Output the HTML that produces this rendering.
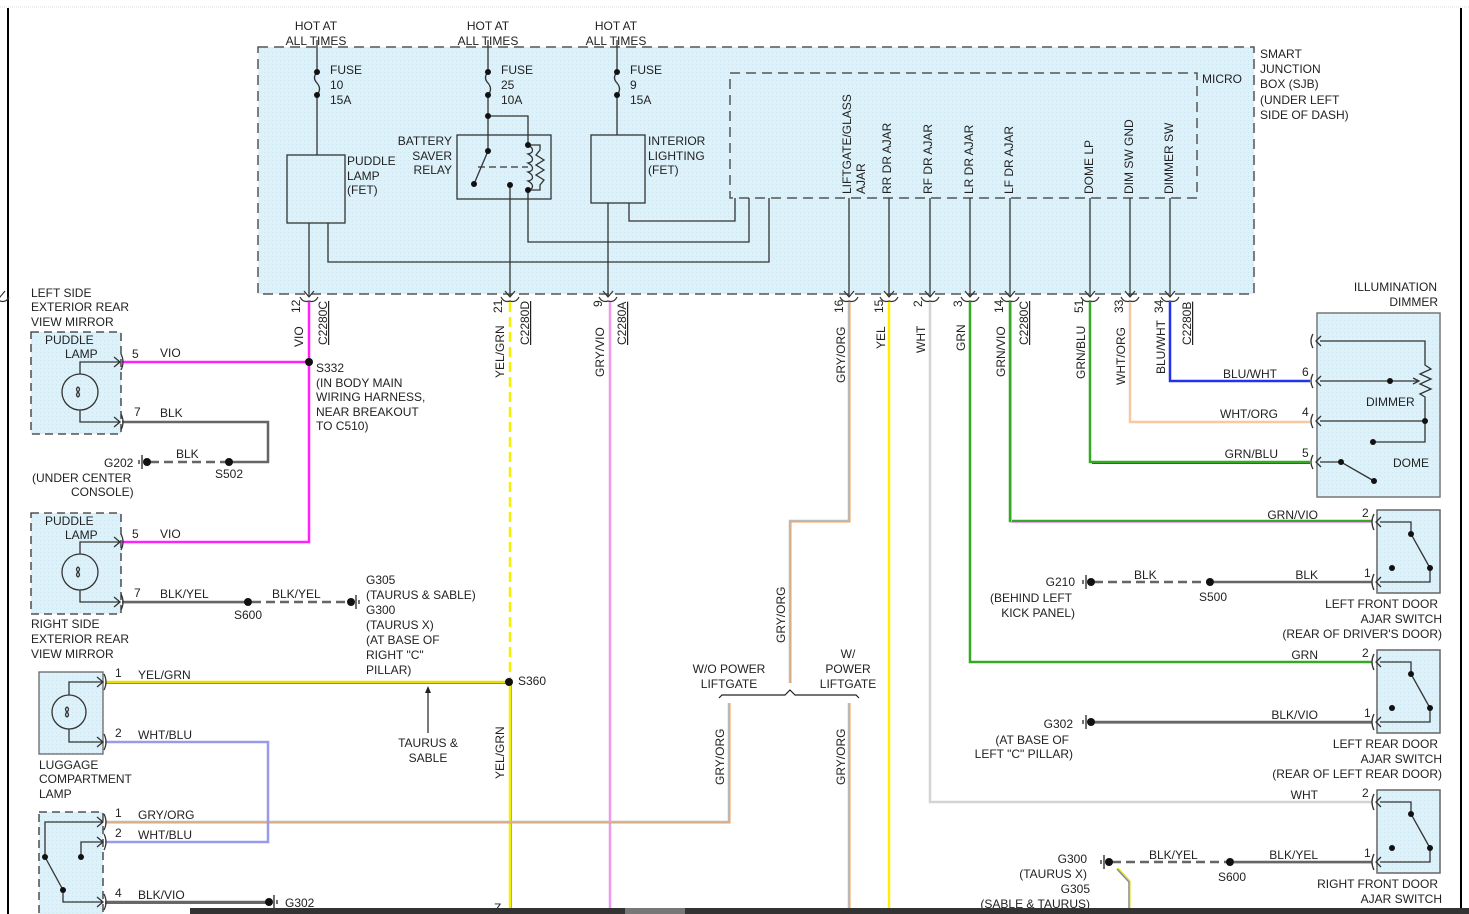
<!DOCTYPE html>
<html><head><meta charset="utf-8"><style>
html,body{margin:0;padding:0;background:#fff;}
svg{display:block;font-family:"Liberation Sans",sans-serif;font-size:12px;fill:#222;}
text{fill:#222;stroke:none;}
</style></head><body>
<svg width="1469" height="914" viewBox="0 0 1469 914" xmlns="http://www.w3.org/2000/svg">
<defs>
<pattern id="dots" width="4" height="4" patternUnits="userSpaceOnUse"><rect width="4" height="4" fill="#dff1f8"/><rect width="1" height="1" fill="#c9e6f2"/></pattern>
</defs>
<line x1="0" y1="7" x2="1469" y2="7" stroke="#ddd" stroke-width="1" stroke-dasharray="1,1"/>
<line x1="8" y1="8" x2="8" y2="914" stroke="#000" stroke-width="2"/>
<line x1="1461" y1="8" x2="1461" y2="914" stroke="#000" stroke-width="2"/>

<!-- SJB box -->
<rect x="258" y="47" width="996" height="247" fill="url(#dots)" stroke="#555" stroke-width="1.5" stroke-dasharray="10,6"/>
<rect x="730" y="73" width="467" height="125" fill="none" stroke="#555" stroke-width="1.5" stroke-dasharray="10,6"/>
<text x="1202" y="83">MICRO</text>
<g><text x="1260" y="58">SMART</text><text x="1260" y="73">JUNCTION</text><text x="1260" y="88">BOX (SJB)</text><text x="1260" y="104">(UNDER LEFT</text><text x="1260" y="119">SIDE OF DASH)</text></g>

<g text-anchor="middle"><text x="316" y="30">HOT AT</text><text x="316" y="45">ALL TIMES</text>
<text x="488" y="30">HOT AT</text><text x="488" y="45">ALL TIMES</text>
<text x="616" y="30">HOT AT</text><text x="616" y="45">ALL TIMES</text></g>

<g stroke="#333" stroke-width="1.3" fill="none">
<!-- fuse 10 -->
<line x1="317" y1="40" x2="317" y2="72"/><path d="M317 72 q-5 6 0 11 q5 6 0 12"/><line x1="317" y1="95" x2="317" y2="155"/>
<rect x="287" y="155" width="58" height="68"/>
<line x1="309" y1="223" x2="309" y2="297"/>
<polyline points="328,223 328,262 769,262 769,198"/>
<!-- fuse 25 -->
<line x1="488" y1="40" x2="488" y2="72"/><path d="M488 72 q-5 6 0 11 q5 6 0 12"/><line x1="488" y1="95" x2="488" y2="151"/>
<polyline points="488,116 528,116 528,145"/>
<rect x="457" y="135" width="94" height="64"/>
<line x1="488" y1="151" x2="474" y2="184"/>
<line x1="478" y1="167" x2="528" y2="167" stroke-dasharray="7,4"/>
<path d="M528 145 c6 3 6 8 0 9 c6 3 6 8 0 9 c6 3 6 8 0 9 c6 3 6 8 0 9 c6 3 6 8 0 9"/>
<polyline points="528,145 540,145 540,150 536,155 544,160 536,165 544,170 536,175 544,180 540,185 540,190 528,190"/>
<line x1="510" y1="185" x2="510" y2="297"/>
<polyline points="528,190 528,242 749,242 749,198"/>
<!-- fuse 9 -->
<line x1="617" y1="40" x2="617" y2="72"/><path d="M617 72 q-5 6 0 11 q5 6 0 12"/><line x1="617" y1="95" x2="617" y2="135"/>
<rect x="591" y="135" width="54" height="68"/>
<line x1="608" y1="203" x2="608" y2="297"/>
<polyline points="629,203 629,221 735,221 735,198"/>
<!-- micro pins -->
<line x1="849" y1="198" x2="849" y2="297"/><line x1="889" y1="198" x2="889" y2="297"/><line x1="930" y1="198" x2="930" y2="297"/><line x1="970" y1="198" x2="970" y2="297"/><line x1="1010" y1="198" x2="1010" y2="297"/><line x1="1090" y1="198" x2="1090" y2="297"/><line x1="1130" y1="198" x2="1130" y2="297"/><line x1="1170" y1="198" x2="1170" y2="297"/>
</g>
<g fill="#111">
<circle cx="317" cy="72" r="3"/><circle cx="317" cy="95" r="3"/>
<circle cx="488" cy="72" r="3"/><circle cx="488" cy="95" r="3"/><circle cx="488" cy="116" r="3"/><circle cx="488" cy="151" r="3"/><circle cx="474" cy="184" r="3"/><circle cx="510" cy="185" r="3"/><circle cx="528" cy="145" r="3"/><circle cx="528" cy="190" r="3"/>
<circle cx="617" cy="72" r="3"/><circle cx="617" cy="95" r="3"/>
</g>
<text x="330" y="74">FUSE</text><text x="330" y="89">10</text><text x="330" y="104">15A</text>
<text x="501" y="74">FUSE</text><text x="501" y="89">25</text><text x="501" y="104">10A</text>
<text x="630" y="74">FUSE</text><text x="630" y="89">9</text><text x="630" y="104">15A</text>
<text x="347" y="165">PUDDLE</text><text x="347" y="180">LAMP</text><text x="347" y="194">(FET)</text>
<g text-anchor="end"><text x="452" y="145">BATTERY</text><text x="452" y="160">SAVER</text><text x="452" y="174">RELAY</text></g>
<text x="648" y="145">INTERIOR</text><text x="648" y="160">LIGHTING</text><text x="648" y="174">(FET)</text>

<!-- micro labels -->
<g>
<text transform="translate(851,194) rotate(-90)">LIFTGATE/GLASS</text>
<text transform="translate(865,194) rotate(-90)">AJAR</text>
<text transform="translate(891,194) rotate(-90)">RR DR AJAR</text>
<text transform="translate(932,194) rotate(-90)">RF DR AJAR</text>
<text transform="translate(973,194) rotate(-90)">LR DR AJAR</text>
<text transform="translate(1013,194) rotate(-90)">LF DR AJAR</text>
<text transform="translate(1093,194) rotate(-90)">DOME LP</text>
<text transform="translate(1133,194) rotate(-90)">DIM  SW GND</text>
<text transform="translate(1173,194) rotate(-90)">DIMMER SW</text>
</g>

<!-- pin arrows & connectors -->
<g stroke="#333" stroke-width="1.2" fill="none">
<path id="pa" d="M-5 291 L0 297 L5 291 M-9 297 q3 6 9 4 q6 2 9 -4"/>
</g>
<g stroke="#333" stroke-width="1.2" fill="none">
<path d="M304 291 L309 297 L314 291 M300 297 q3 6 9 4 q6 2 9 -4"/>
<path d="M505 291 L510 297 L515 291 M501 297 q3 6 9 4 q6 2 9 -4"/>
<path d="M603 291 L608 297 L613 291 M599 297 q3 6 9 4 q6 2 9 -4"/>
<path d="M844 291 L849 297 L854 291 M840 297 q3 6 9 4 q6 2 9 -4"/>
<path d="M884 291 L889 297 L894 291 M880 297 q3 6 9 4 q6 2 9 -4"/>
<path d="M925 291 L930 297 L935 291 M921 297 q3 6 9 4 q6 2 9 -4"/>
<path d="M965 291 L970 297 L975 291 M961 297 q3 6 9 4 q6 2 9 -4"/>
<path d="M1005 291 L1010 297 L1015 291 M1001 297 q3 6 9 4 q6 2 9 -4"/>
<path d="M1085 291 L1090 297 L1095 291 M1081 297 q3 6 9 4 q6 2 9 -4"/>
<path d="M1125 291 L1130 297 L1135 291 M1121 297 q3 6 9 4 q6 2 9 -4"/>
<path d="M1165 291 L1170 297 L1175 291 M1161 297 q3 6 9 4 q6 2 9 -4"/>
</g>
<g>
<text transform="translate(300,313) rotate(-90)">12</text>
<text transform="translate(502,313) rotate(-90)">21</text>
<text transform="translate(602,307) rotate(-90)">9</text>
<text transform="translate(843,313) rotate(-90)">16</text>
<text transform="translate(883,313) rotate(-90)">15</text>
<text transform="translate(922,307) rotate(-90)">2</text>
<text transform="translate(962,307) rotate(-90)">3</text>
<text transform="translate(1003,313) rotate(-90)">14</text>
<text transform="translate(1083,313) rotate(-90)">51</text>
<text transform="translate(1123,313) rotate(-90)">33</text>
<text transform="translate(1163,313) rotate(-90)">34</text>
<text transform="translate(327,345) rotate(-90)" text-decoration="underline">C2280C</text>
<text transform="translate(529,345) rotate(-90)" text-decoration="underline">C2280D</text>
<text transform="translate(626,345) rotate(-90)" text-decoration="underline">C2280A</text>
<text transform="translate(1028,345) rotate(-90)" text-decoration="underline">C2280C</text>
<text transform="translate(1191,345) rotate(-90)" text-decoration="underline">C2280B</text>
<text transform="translate(303,347) rotate(-90)">VIO</text>
<text transform="translate(504,378) rotate(-90)">YEL/GRN</text>
<text transform="translate(604,377) rotate(-90)">GRY/VIO</text>
<text transform="translate(845,383) rotate(-90)">GRY/ORG</text>
<text transform="translate(885,349) rotate(-90)">YEL</text>
<text transform="translate(925,353) rotate(-90)">WHT</text>
<text transform="translate(965,351) rotate(-90)">GRN</text>
<text transform="translate(1005,377) rotate(-90)">GRN/VIO</text>
<text transform="translate(1085,379) rotate(-90)">GRN/BLU</text>
<text transform="translate(1125,385) rotate(-90)">WHT/ORG</text>
<text transform="translate(1165,374) rotate(-90)">BLU/WHT</text>
</g>

<!-- wires -->
<g fill="none" stroke-width="2.5">
<polyline points="309,302 309,542 122,542" stroke="#ff22ff"/>
<line x1="122" y1="362" x2="309" y2="362" stroke="#ff22ff"/>
<line x1="510" y1="302" x2="510" y2="682" stroke="#f2f200" stroke-dasharray="10,5"/>
<line x1="510" y1="682" x2="510" y2="914" stroke="#f2f200"/>
<line x1="511.5" y1="682" x2="511.5" y2="914" stroke="#8c4" stroke-width="1"/>
<line x1="105" y1="682" x2="509" y2="682" stroke="#e8e000"/>
<line x1="105" y1="683.5" x2="509" y2="683.5" stroke="#6a4" stroke-width="1"/>
<line x1="610" y1="302" x2="610" y2="914" stroke="#ee99ee"/>
<polyline points="849,302 849,521 790,521 790,683" stroke="#bbb"/>
<polyline points="850,302 850,522 791,522 791,683" stroke="#f5a050" stroke-width="1"/>
<polyline points="729,703 729,822 105,822" stroke="#bbb"/>
<polyline points="730,703 730,823 105,823" stroke="#f5a050" stroke-width="1"/>
<line x1="849" y1="703" x2="849" y2="914" stroke="#bbb"/>
<line x1="850" y1="703" x2="850" y2="914" stroke="#f5a050" stroke-width="1"/>
<line x1="889" y1="302" x2="889" y2="914" stroke="#ffee00"/>
<polyline points="930,302 930,802 1372,802" stroke="#d4d4d4"/>
<polyline points="970,302 970,662 1372,662" stroke="#33aa22"/>
<polyline points="1010,302 1010,521 1372,521" stroke="#33aa22"/>
<polyline points="1011.5,302 1011.5,522.5 1372,522.5" stroke="#e8a0e8" stroke-width="1"/>
<polyline points="1090,302 1090,462 1310,462" stroke="#33aa22"/>
<line x1="1092" y1="463.5" x2="1310" y2="463.5" stroke="#3344ee" stroke-width="1"/>
<polyline points="1130,302 1130,422 1310,422" stroke="#f8c8a0"/>
<polyline points="1170,302 1170,381 1310,381" stroke="#2233ee"/>
<!-- grounds -->
<polyline points="122,422 268,422 268,462 232,462" stroke="#666"/>
<line x1="150" y1="462" x2="228" y2="462" stroke="#666" stroke-dasharray="9,5"/>
<line x1="122" y1="602" x2="246" y2="602" stroke="#666"/>
<line x1="122" y1="603.5" x2="246" y2="603.5" stroke="#dd0" stroke-width="1"/>
<line x1="252" y1="602" x2="347" y2="602" stroke="#666" stroke-dasharray="9,5"/>
<polyline points="105,742 268,742 268,842 105,842" stroke="#9999ee"/>
<line x1="105" y1="902" x2="266" y2="902" stroke="#666"/>
<line x1="105" y1="903.5" x2="266" y2="903.5" stroke="#f0f" stroke-width="1"/>
<line x1="1094" y1="582" x2="1207" y2="582" stroke="#666" stroke-dasharray="9,5"/>
<line x1="1214" y1="582" x2="1372" y2="582" stroke="#666"/>
<line x1="1094" y1="722" x2="1372" y2="722" stroke="#666"/>
<line x1="1094" y1="723.5" x2="1372" y2="723.5" stroke="#e6e" stroke-width="1"/>
<line x1="1112" y1="862" x2="1227" y2="862" stroke="#666" stroke-dasharray="9,5"/>
<line x1="1234" y1="862" x2="1372" y2="862" stroke="#666"/>
<line x1="1234" y1="863.5" x2="1372" y2="863.5" stroke="#dd0" stroke-width="1"/>
<polyline points="1117,869 1129,882 1129,914" stroke="#888" stroke-width="1.5"/>
<polyline points="1118,868 1130,881 1130,914" stroke="#dd0" stroke-width="1"/>
</g>
<g fill="#111">
<circle cx="309" cy="362" r="4"/><circle cx="229" cy="462" r="4"/><circle cx="248" cy="602" r="4"/><circle cx="509" cy="682" r="4"/>
<circle cx="1210" cy="582" r="4"/><circle cx="1230" cy="862" r="4"/>
<circle cx="147" cy="462" r="4"/><circle cx="351" cy="602" r="4"/><circle cx="269" cy="902" r="4"/><circle cx="1091" cy="582" r="4"/><circle cx="1091" cy="722" r="4"/><circle cx="1109" cy="862" r="4"/>
</g>
<g stroke="#222" stroke-width="1.3">
<line x1="142" y1="455" x2="142" y2="469"/><line x1="139" y1="460" x2="139" y2="464"/>
<line x1="356" y1="595" x2="356" y2="609"/><line x1="359" y1="600" x2="359" y2="604"/>
<line x1="274" y1="895" x2="274" y2="909"/><line x1="277" y1="900" x2="277" y2="904"/>
<line x1="1086" y1="575" x2="1086" y2="589"/><line x1="1083" y1="580" x2="1083" y2="584"/>
<line x1="1086" y1="715" x2="1086" y2="729"/><line x1="1083" y1="720" x2="1083" y2="724"/>
<line x1="1104" y1="855" x2="1104" y2="869"/><line x1="1101" y1="860" x2="1101" y2="864"/>
</g>
<text x="316" y="372">S332</text><text x="316" y="387">(IN BODY MAIN</text><text x="316" y="401">WIRING HARNESS,</text><text x="316" y="416">NEAR BREAKOUT</text><text x="316" y="430">TO C510)</text>
<text x="518" y="685">S360</text>
<text x="160" y="357">VIO</text><text x="160" y="538">VIO</text><text x="160" y="417">BLK</text><text x="176" y="458">BLK</text><text x="215" y="478">S502</text>
<text x="104" y="467">G202</text><text x="32" y="482">(UNDER CENTER</text><text x="71" y="496">CONSOLE)</text>
<text x="160" y="598">BLK/YEL</text><text x="272" y="598">BLK/YEL</text><text x="234" y="619">S600</text>
<text x="366" y="584">G305</text><text x="366" y="599">(TAURUS &amp; SABLE)</text><text x="366" y="614">G300</text><text x="366" y="629">(TAURUS X)</text><text x="366" y="644">(AT BASE OF</text><text x="366" y="659">RIGHT "C"</text><text x="366" y="674">PILLAR)</text>
<text x="132" y="358">5</text><text x="134" y="416">7</text><text x="132" y="538">5</text><text x="134" y="597">7</text>
<text x="31" y="297">LEFT SIDE</text><text x="31" y="311">EXTERIOR REAR</text><text x="31" y="326">VIEW MIRROR</text>
<text x="31" y="628">RIGHT SIDE</text><text x="31" y="643">EXTERIOR REAR</text><text x="31" y="658">VIEW MIRROR</text>
<!-- puddle lamps -->
<g stroke="#333" stroke-width="1.3">
<rect x="31" y="332" width="90" height="102" fill="url(#dots)" stroke-dasharray="8,5"/>
<rect x="31" y="513" width="90" height="101" fill="url(#dots)" stroke-dasharray="8,5"/>
<rect x="39" y="672" width="64" height="82" fill="url(#dots)" stroke="#666"/>
<rect x="39" y="812" width="64" height="110" fill="url(#dots)" stroke-dasharray="8,5"/>
<g fill="none">
<circle cx="80" cy="392" r="18"/><polyline points="80,374 80,362 120,362"/><polyline points="80,410 80,422 120,422"/>
<path d="M78 392 q-3 -3 0 -5 q3 2 0 5 q-3 3 0 5 q3 -2 0 -5"/>
<circle cx="80" cy="572" r="18"/><polyline points="80,554 80,542 120,542"/><polyline points="80,590 80,602 120,602"/>
<path d="M78 572 q-3 -3 0 -5 q3 2 0 5 q-3 3 0 5 q3 -2 0 -5"/>
<circle cx="69" cy="712" r="17"/><polyline points="69,695 69,682 102,682"/><polyline points="69,729 69,742 102,742"/>
<path d="M67 712 q-3 -3 0 -5 q3 2 0 5 q-3 3 0 5 q3 -2 0 -5"/>
<polyline points="102,822 45,822 45,857"/><polyline points="102,842 81,842 81,857"/>
<line x1="45" y1="857" x2="63" y2="890"/><polyline points="63,890 63,902 102,902"/>
<path d="M114 357 l6 5 l-6 5 M121 354 q4 8 0 16 M114 417 l6 5 l-6 5 M121 414 q4 8 0 16 M114 537 l6 5 l-6 5 M121 534 q4 8 0 16 M114 597 l6 5 l-6 5 M121 594 q4 8 0 16"/>
<path d="M97 677 l6 5 l-6 5 M104 674 q4 8 0 16 M97 737 l6 5 l-6 5 M104 734 q4 8 0 16 M97 817 l6 5 l-6 5 M104 814 q4 8 0 16 M97 837 l6 5 l-6 5 M104 834 q4 8 0 16 M97 897 l6 5 l-6 5 M104 894 q4 8 0 16"/>
</g></g>
<g fill="#111"><circle cx="45" cy="857" r="3"/><circle cx="81" cy="857" r="3"/><circle cx="63" cy="890" r="3"/></g>
<text x="45" y="344">PUDDLE</text><text x="65" y="358">LAMP</text><text x="45" y="525">PUDDLE</text><text x="65" y="539">LAMP</text>
<text x="115" y="677">1</text><text x="138" y="679">YEL/GRN</text><text x="115" y="737">2</text><text x="138" y="739">WHT/BLU</text>
<text x="39" y="769">LUGGAGE</text><text x="39" y="783">COMPARTMENT</text><text x="39" y="798">LAMP</text>
<text x="115" y="817">1</text><text x="138" y="819">GRY/ORG</text><text x="115" y="837">2</text><text x="138" y="839">WHT/BLU</text><text x="115" y="897">4</text><text x="138" y="899">BLK/VIO</text><text x="285" y="907">G302</text>
<line x1="428" y1="733" x2="428" y2="690" stroke="#333" stroke-width="1.3"/><path d="M428 686 l-3 7 l6 0 z" fill="#222"/>
<g text-anchor="middle"><text x="428" y="747">TAURUS &amp;</text><text x="428" y="762">SABLE</text>
<text x="729" y="673">W/O POWER</text><text x="729" y="688">LIFTGATE</text>
<text x="848" y="658">W/</text><text x="848" y="673">POWER</text><text x="848" y="688">LIFTGATE</text></g>
<path d="M719 698 l3 -3 L785 695 L790 690 L795 695 L856 695 l3 3" fill="none" stroke="#222" stroke-width="1.2"/>
<text transform="translate(785,643) rotate(-90)">GRY/ORG</text>
<text transform="translate(724,785) rotate(-90)">GRY/ORG</text>
<text transform="translate(845,785) rotate(-90)">GRY/ORG</text>
<text transform="translate(504,779) rotate(-90)">YEL/GRN</text>
<text x="494" y="912">Z</text>

<!-- illumination dimmer -->
<text x="1437" y="291" text-anchor="end">ILLUMINATION</text><text x="1438" y="306" text-anchor="end">DIMMER</text>
<rect x="1317" y="313" width="123" height="184" fill="url(#dots)" stroke="#777" stroke-width="1.5"/>
<g stroke="#333" stroke-width="1.3" fill="none">
<polyline points="1320,341 1425,341 1425,365 1431,369 1420,374 1431,379 1420,384 1431,389 1420,394 1425,397 1425,421"/>
<line x1="1320" y1="381" x2="1418" y2="381"/><path d="M1413 378 l6 3 l-6 3"/>
<line x1="1320" y1="421" x2="1425" y2="421"/><polyline points="1425,421 1425,442 1373,442"/>
<polyline points="1320,462 1341,462 1374,481"/>
<path d="M1321 336 l-5 5 l5 5 M1313 334 q-4 7 0 14 M1321 376 l-5 5 l5 5 M1313 374 q-4 7 0 14 M1321 416 l-5 5 l5 5 M1313 414 q-4 7 0 14 M1321 457 l-5 5 l5 5 M1313 455 q-4 7 0 14"/>
</g>
<g fill="#111"><circle cx="1390" cy="381" r="3"/><circle cx="1425" cy="421" r="3"/><circle cx="1373" cy="442" r="3"/><circle cx="1341" cy="462" r="3"/><circle cx="1374" cy="481" r="3"/></g>
<text x="1366" y="406">DIMMER</text><text x="1393" y="467">DOME</text>
<text x="1302" y="376">6</text><text x="1302" y="416">4</text><text x="1302" y="457">5</text>
<g text-anchor="end"><text x="1277" y="378">BLU/WHT</text><text x="1278" y="418">WHT/ORG</text><text x="1278" y="458">GRN/BLU</text>
<text x="1318" y="519">GRN/VIO</text><text x="1318" y="579">BLK</text><text x="1318" y="659">GRN</text><text x="1318" y="719">BLK/VIO</text><text x="1318" y="799">WHT</text><text x="1318" y="859">BLK/YEL</text>
<text x="1438" y="608">LEFT FRONT DOOR</text><text x="1442" y="623">AJAR SWITCH</text><text x="1442" y="638">(REAR OF DRIVER'S DOOR)</text>
<text x="1438" y="748">LEFT REAR DOOR</text><text x="1442" y="763">AJAR SWITCH</text><text x="1442" y="778">(REAR OF LEFT REAR DOOR)</text>
<text x="1438" y="888">RIGHT FRONT DOOR</text><text x="1442" y="903">AJAR SWITCH</text>
<text x="1075" y="586">G210</text><text x="1072" y="602">(BEHIND LEFT</text><text x="1075" y="617">KICK PANEL)</text>
<text x="1073" y="728">G302</text><text x="1069" y="744">(AT BASE OF</text><text x="1073" y="758">LEFT "C" PILLAR)</text>
<text x="1087" y="863">G300</text><text x="1087" y="878">(TAURUS X)</text><text x="1090" y="893">G305</text><text x="1090" y="908">(SABLE &amp; TAURUS)</text>
</g>
<text x="1134" y="579">BLK</text><text x="1199" y="601">S500</text><text x="1149" y="859">BLK/YEL</text><text x="1218" y="881">S600</text>
<!-- door switches -->
<g stroke="#333" stroke-width="1.3" fill="none">
<rect x="1377" y="510" width="63" height="83" fill="url(#dots)" stroke="#666" stroke-width="1.5"/>
<rect x="1377" y="650" width="63" height="83" fill="url(#dots)" stroke="#666" stroke-width="1.5"/>
<rect x="1377" y="790" width="63" height="83" fill="url(#dots)" stroke="#666" stroke-width="1.5"/>
<g id="sw1">
<polyline points="1380,522 1411,522 1411,534 1430,568"/><polyline points="1380,582 1430,582 1430,568"/>
<path d="M1381 517 l-5 5 l5 5 M1374 514 q-4 8 0 16 M1381 577 l-5 5 l5 5 M1374 574 q-4 8 0 16"/>
</g>
<polyline points="1380,662 1411,662 1411,674 1430,708"/><polyline points="1380,722 1430,722 1430,708"/>
<path d="M1381 657 l-5 5 l5 5 M1374 654 q-4 8 0 16 M1381 717 l-5 5 l5 5 M1374 714 q-4 8 0 16"/>
<polyline points="1380,802 1411,802 1411,814 1430,848"/><polyline points="1380,862 1430,862 1430,848"/>
<path d="M1381 797 l-5 5 l5 5 M1374 794 q-4 8 0 16 M1381 857 l-5 5 l5 5 M1374 854 q-4 8 0 16"/>
</g>
<g fill="#111">
<circle cx="1411" cy="534" r="3"/><circle cx="1430" cy="568" r="3"/><circle cx="1392" cy="568" r="3"/>
<circle cx="1411" cy="674" r="3"/><circle cx="1430" cy="708" r="3"/><circle cx="1392" cy="708" r="3"/>
<circle cx="1411" cy="814" r="3"/><circle cx="1430" cy="848" r="3"/><circle cx="1392" cy="848" r="3"/>
</g>
<text x="1362" y="517">2</text><text x="1364" y="577">1</text><text x="1362" y="657">2</text><text x="1364" y="717">1</text><text x="1362" y="797">2</text><text x="1364" y="857">1</text>

<!-- bottom strip -->
<rect x="190" y="908" width="1279" height="6" fill="#333"/>
<rect x="625" y="908" width="60" height="6" fill="#777"/>
</svg>
</body></html>
